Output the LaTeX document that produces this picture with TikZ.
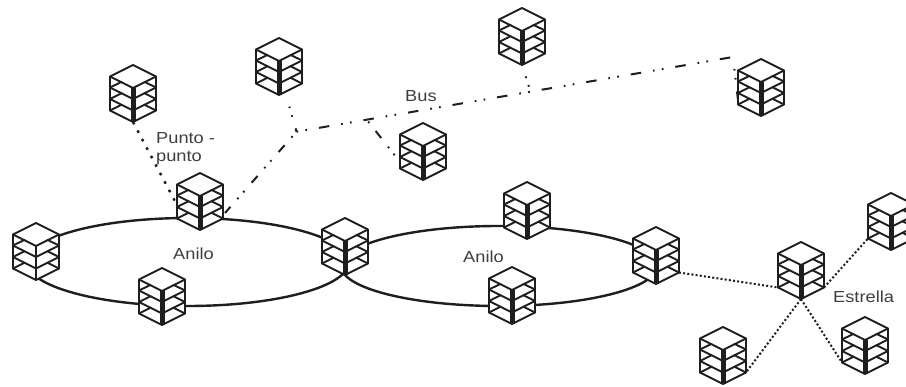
\documentclass[tikz,border=0pt]{standalone}
\usepackage{fontspec}
\setmainfont{Liberation Sans}[FakeStretch=1.14]
\definecolor{ink}{HTML}{1E1E1E}
\definecolor{lab}{HTML}{3F3F3F}
\tikzset{
  x=1pt,y=-1pt,
  cubebox/.style={minimum width=46pt,minimum height=57pt,inner sep=0pt,draw=none},
  cubeline/.style={draw=ink,line width=1.9pt,line join=round,line cap=round},
  ring/.style={draw=ink,line width=2.4pt},
  busline/.style={draw=ink,line width=2pt,dash pattern=on 10.5pt off 12pt on 1.7pt off 7.3pt on 1.7pt off 12pt},
  branchline/.style={draw=ink,line width=2pt,dash pattern=on 9pt off 11pt on 1.7pt off 7.3pt on 1.7pt off 10.3pt},
  dotline/.style={draw=ink,line width=2pt,dash pattern=on 2pt off 2.2pt},
  looseline/.style={draw=ink,line width=2.4pt,dash pattern=on 2.6pt off 7pt},
  lbl/.style={font=\fontsize{16}{18}\selectfont,text=lab,inner sep=0pt,anchor=base west},
}
\newcommand{\cubeat}[4][5pt]{%
  \node[cubebox] (#2) at (#3,#4+28.5) {};
  \begin{scope}[shift={(#3,#4)}]
    \coordinate (#2-sw) at (-23,45.5);
    \coordinate (#2-se) at (23,45.5);
    \coordinate (#2-s) at (0,57);
    \fill[white] (0,0) -- (23,11.5) -- (23,45.5) -- (0,57) -- (-23,45.5) -- (-23,11.5) -- cycle;
    \draw[ink,line width=#1] (0,23) -- (0,57);
    \path[cubeline] (0,0) -- (23,11.5) -- (23,45.5) -- (0,57) -- (-23,45.5) -- (-23,11.5) -- cycle;
    \path[cubeline] (-23,11.5) -- (0,23) -- (23,11.5);
    \path[cubeline] (-23,22.5) -- (0,34) -- (23,22.5);
    \path[cubeline] (-23,34) -- (0,45.5) -- (23,34);
    \path[cubeline] (-23,22.5) -- (-11.5,16.9) (23,22.5) -- (11.5,16.9);
    \path[cubeline] (-23,34) -- (-11.5,28.2) (23,34) -- (11.5,28.2);
    \path[cubeline] (-23,45.5) -- (-11.5,39.7) (23,45.5) -- (11.5,39.7);
  \end{scope}}
\begin{document}
\begin{tikzpicture}
\useasboundingbox (0,0) rectangle (906,387);
\fill[white] (0,0) rectangle (906,387);
% rings
\path[ring] (188,262) ellipse [x radius=161, y radius=44];
\path[ring] (499,266) ellipse [x radius=158, y radius=40];
% cubes
\cubeat{c1}{133}{65}
\cubeat{c2}{279}{38}
\cubeat{c3}{522}{8}
\cubeat{c4}{761}{59}
\cubeat{c5}{423}{123}
\cubeat{c6}{200}{173}
\cubeat[2.8pt]{c7}{36}{223}
\cubeat{c8}{162}{268}
\cubeat{c9}{345}{218}
\cubeat{c10}{527}{182}
\cubeat{c11}{656}{227}
\cubeat{c12}{512}{267}
\cubeat{c13}{801}{242}
\cubeat{c14}{891}{193}
\cubeat{c15}{865}{317}
\cubeat{c16}{723}{327}
% bus junctions
\coordinate (busL) at (296.5,131.7);
\coordinate (busM) at (367,120);
\coordinate (busT) at (530,90);
\coordinate (busR) at (733,57);
\coordinate (c2end) at (286,95);
\coordinate (c6tap) at (225,213);
\coordinate (c5tap) at (400,162);
\coordinate (c6pp) at (177,205);
\coordinate (c4tap) at (738,100);
% connectors
\path[busline,dash phase=22.5pt] (busL) -- (busR);
\path[busline,dash phase=10.5pt] (busR) -- (c4tap);
\path[busline,dash phase=10.5pt] (c3-s) -- (busT);
\path[busline,dash phase=10.5pt] (c2end) -- (busL);
\path[branchline,dash phase=23pt] (busL) -- (c6tap);
\path[branchline,dash phase=27pt] (busM) -- (c5tap);
\path[looseline] (c1-s) -- (c6pp);
\path[dotline] (c11-se) -- (c13-sw);
\path[dotline] (c13-se) -- (c14-sw);
\path[dotline] (c13-s) -- (c16-se);
\path[dotline] (c13-s) -- (c15-sw);
% labels
\node[lbl] (l1) at (405,102) {Bus};
\node[lbl] (l2) at (156,144) {Punto -};
\node[lbl] (l3) at (156,162) {punto};
\node[lbl] (l4) at (173,260) {Anilo};
\node[lbl] (l5) at (463,263) {Anilo};
\node[lbl] (l6) at (833,303) {Estrella};
\end{tikzpicture}
\end{document}
